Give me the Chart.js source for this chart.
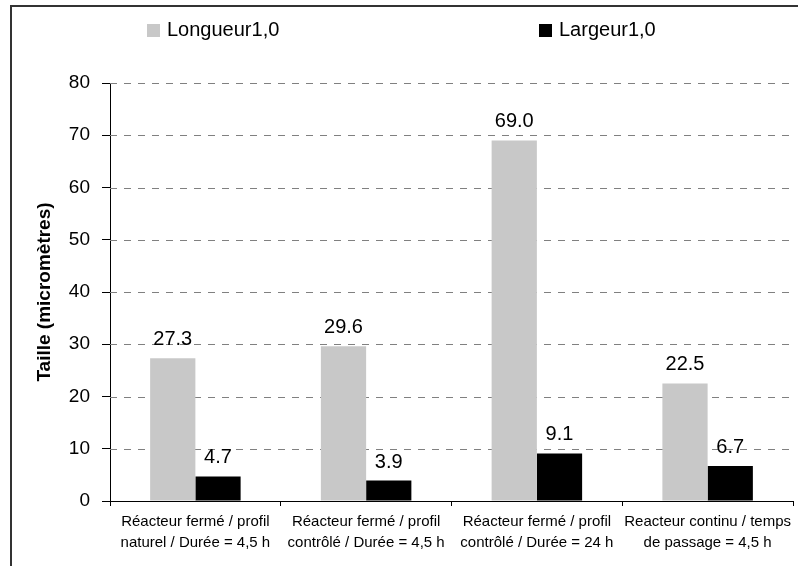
<!DOCTYPE html>
<html>
<head>
<meta charset="utf-8">
<script src="https://cdn.jsdelivr.net/npm/chart.js@4.4.0/dist/chart.umd.min.js"></script>
<style>
  html, body { margin: 0; padding: 0; background: #fff; }
  #wrap { position: relative; width: 798px; height: 566px; overflow: hidden; }
  #frame { position: absolute; left: 10px; top: 5px; width: 800px; height: 600px;
           border-top: 2px solid #333; border-left: 2px solid #333; }
  canvas { position: absolute; left: 0; top: 0; }
</style>
</head>
<body>
<div id="wrap">
  <div id="frame"></div>
  <canvas id="chart" width="798" height="566"></canvas>
</div>
<script>
// chart data
const categories = [
  ['Réacteur fermé / profil', 'naturel / Durée = 4,5 h'],
  ['Réacteur fermé / profil', 'contrôlé / Durée = 4,5 h'],
  ['Réacteur fermé / profil', 'contrôlé / Durée = 24 h'],
  ['Reacteur continu / temps', 'de passage = 4,5 h']
];
const seriesNames = ['Longueur1,0', 'Largeur1,0'];
const longueur = [27.3, 29.6, 69.0, 22.5];
const largeur = [4.7, 3.9, 9.1, 6.7];
const yTicks = [0, 10, 20, 30, 40, 50, 60, 70, 80];

const FONT = '"Liberation Sans", Arial, sans-serif';
const GREY = '#C8C8C8';
const BLACK = '#000000';

// dashed horizontal gridlines, drawn from the y scale's own tick pixels
const dashedGrid = {
  id: 'dashedGrid',
  beforeDatasetsDraw(chart) {
    const { ctx, chartArea } = chart;
    const y = chart.scales.y;
    ctx.save();
    ctx.strokeStyle = '#808080';
    ctx.lineWidth = 1;
    ctx.setLineDash([7, 7]);
    y.ticks.forEach(t => {
      if (t.value === 0) return;
      const py = Math.round(y.getPixelForValue(t.value)) + 0.5;
      ctx.beginPath();
      ctx.moveTo(chartArea.left, py);
      ctx.lineTo(chartArea.right, py);
      ctx.stroke();
    });
    ctx.restore();
  }
};

// value labels above the bars + legend spread across the top, like the original
const extras = {
  id: 'extras',
  afterDatasetsDraw(chart) {
    const ctx = chart.ctx;
    ctx.save();
    ctx.fillStyle = '#000';
    ctx.font = '20px ' + FONT;
    ctx.textAlign = 'center';
    ctx.textBaseline = 'alphabetic';
    chart.data.datasets.forEach((ds, i) => {
      chart.getDatasetMeta(i).data.forEach((bar, j) => {
        ctx.fillText(ds.data[j].toFixed(1), bar.x, bar.y - 13);
      });
    });
    ctx.restore();
  },
  afterDraw(chart, args, opts) {
    const ctx = chart.ctx;
    ctx.save();
    ctx.font = '20px ' + FONT;
    ctx.textBaseline = 'middle';
    ctx.textAlign = 'left';
    chart.data.datasets.forEach((ds, i) => {
      const x = opts.positions[i];
      ctx.fillStyle = ds.backgroundColor;
      ctx.fillRect(x, opts.y - 6.5, 13, 13);
      ctx.fillStyle = '#000';
      ctx.fillText(ds.label, x + 20, opts.y);
    });
    ctx.restore();
  }
};

new Chart(document.getElementById('chart'), {
  type: 'bar',
  data: {
    labels: categories,
    datasets: [
      { label: seriesNames[0], data: longueur, backgroundColor: GREY },
      { label: seriesNames[1], data: largeur, backgroundColor: BLACK }
    ]
  },
  options: {
    responsive: false,
    animation: false,
    events: [],
    layout: { padding: { top: 83, right: 5, bottom: 0, left: 0 } },
    datasets: {
      bar: { categoryPercentage: 0.53, barPercentage: 1.0 }
    },
    scales: {
      x: {
        offset: true,
        grid: { drawOnChartArea: false, drawTicks: true, tickLength: 5, color: '#000', offset: true },
        border: { color: '#000', width: 1 },
        ticks: {
          color: '#000',
          font: { family: FONT, size: 15, lineHeight: 1.4 },
          padding: 5,
          maxRotation: 0,
          autoSkip: false
        },
        afterFit: (scale) => { scale.height = 65; }
      },
      y: {
        min: 0,
        max: 80,
        afterBuildTicks: (scale) => { scale.ticks = yTicks.map(v => ({ value: v })); },
        // gridlines on the chart area are drawn dashed by the dashedGrid plugin
        grid: { drawOnChartArea: false, tickColor: '#000', tickLength: 8 },
        border: { color: '#000', width: 1 },
        ticks: {
          color: '#000',
          font: { family: FONT, size: 19 },
          padding: 12
        },
        title: {
          display: true,
          text: 'Taille (micromètres)',
          color: '#000',
          font: { family: FONT, size: 19, weight: 'bold' },
          padding: { top: 33, bottom: 0 }
        },
        afterFit: (scale) => { scale.width = 110; }
      }
    },
    plugins: {
      legend: { display: false },
      tooltip: { enabled: false },
      extras: { positions: [147, 539], y: 30.5 }
    }
  },
  plugins: [dashedGrid, extras]
});
</script>
</body>
</html>
